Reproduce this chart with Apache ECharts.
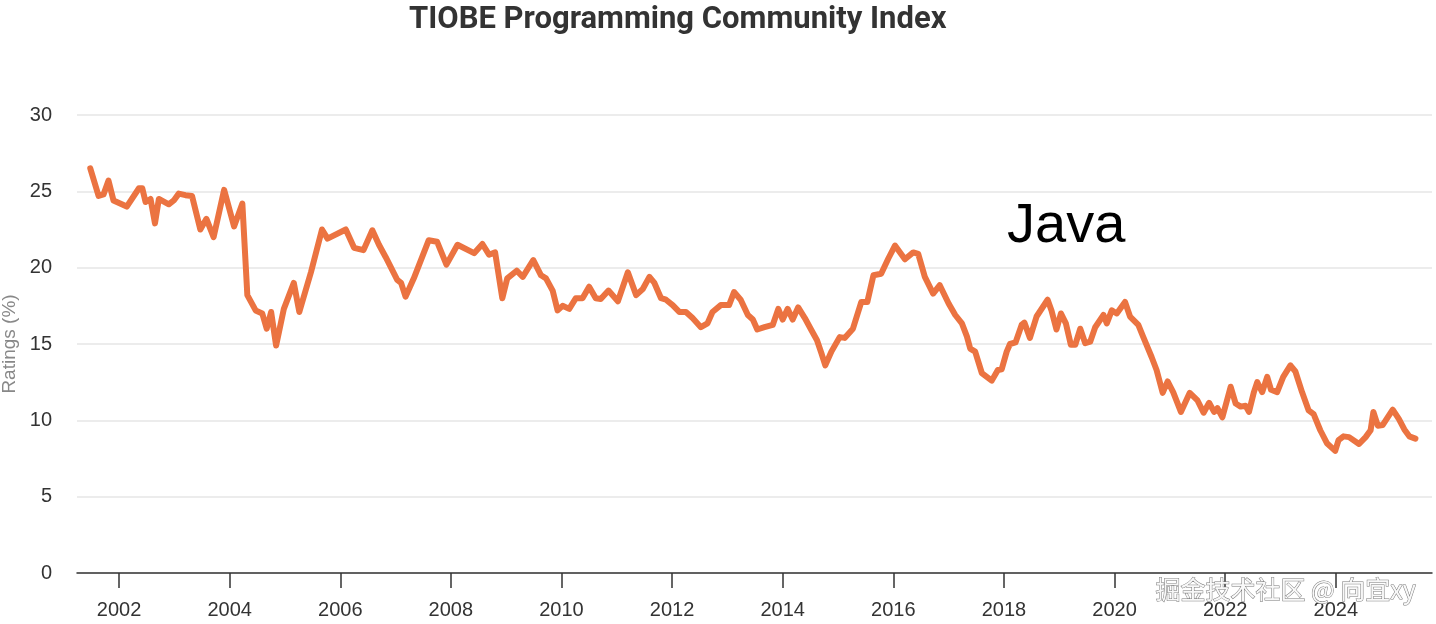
<!DOCTYPE html>
<html>
<head>
<meta charset="utf-8">
<title>TIOBE Programming Community Index</title>
<script src="https://cdn.jsdelivr.net/npm/echarts@6/dist/echarts.min.js"></script>
<style>
  html, body { margin: 0; padding: 0; background: #fff; }
  #main { width: 1436px; height: 624px; }
</style>
</head>
<body>
<div id="main"></div>
<script>
// decimal year of each reading
const years = [
  2001.48, 2001.63, 2001.72, 2001.81, 2001.90, 2002.14, 2002.36, 2002.42, 2002.48, 2002.57,
  2002.65, 2002.72, 2002.90, 2002.99, 2003.08, 2003.20, 2003.32, 2003.47, 2003.58, 2003.71,
  2003.90, 2004.08, 2004.23, 2004.32, 2004.47, 2004.59, 2004.67, 2004.75, 2004.84, 2004.98,
  2005.16, 2005.26, 2005.47, 2005.67, 2005.77, 2006.10, 2006.25, 2006.42, 2006.58, 2006.70,
  2006.82, 2007.03, 2007.10, 2007.18, 2007.33, 2007.60, 2007.75, 2007.92, 2008.12, 2008.42,
  2008.57, 2008.69, 2008.80, 2008.93, 2009.02, 2009.19, 2009.30, 2009.49, 2009.63, 2009.72,
  2009.84, 2009.93, 2010.02, 2010.14, 2010.26, 2010.38, 2010.50, 2010.62, 2010.71, 2010.85,
  2011.02, 2011.20, 2011.35, 2011.47, 2011.59, 2011.68, 2011.80, 2011.89, 2012.01, 2012.13,
  2012.25, 2012.37, 2012.52, 2012.64, 2012.73, 2012.88, 2013.03, 2013.12, 2013.24, 2013.37,
  2013.46, 2013.54, 2013.67, 2013.82, 2013.92, 2014.00, 2014.09, 2014.18, 2014.28, 2014.40,
  2014.52, 2014.62, 2014.70, 2014.77, 2014.88, 2015.03, 2015.12, 2015.27, 2015.42, 2015.53,
  2015.64, 2015.78, 2015.91, 2016.03, 2016.21, 2016.36, 2016.45, 2016.57, 2016.72, 2016.84,
  2017.00, 2017.12, 2017.24, 2017.33, 2017.39, 2017.48, 2017.60, 2017.78, 2017.89, 2017.96,
  2018.05, 2018.11, 2018.21, 2018.32, 2018.37, 2018.47, 2018.59, 2018.79, 2018.86, 2018.95,
  2019.03, 2019.12, 2019.21, 2019.29, 2019.38, 2019.47, 2019.56, 2019.65, 2019.80, 2019.86,
  2019.95, 2020.04, 2020.19, 2020.28, 2020.43, 2020.52, 2020.67, 2020.76, 2020.87, 2020.96,
  2021.06, 2021.20, 2021.36, 2021.50, 2021.61, 2021.71, 2021.80, 2021.86, 2021.95, 2022.10,
  2022.19, 2022.28, 2022.37, 2022.43, 2022.52, 2022.58, 2022.67, 2022.76, 2022.83, 2022.94,
  2023.05, 2023.18, 2023.27, 2023.39, 2023.51, 2023.60, 2023.72, 2023.84, 2023.99, 2024.05,
  2024.14, 2024.24, 2024.42, 2024.54, 2024.63, 2024.68, 2024.76, 2024.85, 2025.03, 2025.14,
  2025.24, 2025.33, 2025.44
];

// Java rating (%)
const java = [
  26.5, 24.7, 24.8, 25.7, 24.4, 24.0, 25.2, 25.2, 24.3, 24.5,
  22.9, 24.5, 24.15, 24.4, 24.85, 24.75, 24.7, 22.5, 23.2, 22.0,
  25.1, 22.7, 24.2, 18.2, 17.2, 17.0, 16.0, 17.1, 14.9, 17.3,
  19.0, 17.1, 19.7, 22.5, 21.9, 22.5, 21.3, 21.15, 22.45, 21.5,
  20.7, 19.2, 19.0, 18.1, 19.3, 21.8, 21.7, 20.2, 21.5, 20.95,
  21.55, 20.85, 21.0, 18.0, 19.3, 19.8, 19.4, 20.5, 19.5, 19.3,
  18.5, 17.2, 17.5, 17.3, 18.0, 18.0, 18.75, 18.0, 17.95, 18.5,
  17.8, 19.7, 18.2, 18.6, 19.4, 19.0, 18.0, 17.9, 17.55, 17.1,
  17.1, 16.7, 16.1, 16.35, 17.1, 17.55, 17.55, 18.4, 17.9, 16.9,
  16.6, 15.95, 16.1, 16.25, 17.3, 16.6, 17.3, 16.6, 17.4, 16.7,
  15.9, 15.25, 14.4, 13.6, 14.5, 15.45, 15.4, 16.0, 17.75, 17.75,
  19.5, 19.6, 20.6, 21.45, 20.55, 21.0, 20.9, 19.4, 18.3, 18.85,
  17.65, 16.9, 16.35, 15.5, 14.7, 14.5, 13.1, 12.6, 13.3, 13.35,
  14.5, 15.0, 15.1, 16.25, 16.4, 15.4, 16.8, 17.9, 17.2, 15.95,
  17.0, 16.35, 14.95, 14.95, 16.0, 15.05, 15.15, 16.1, 16.9, 16.35,
  17.2, 17.0, 17.75, 16.8, 16.25, 15.45, 14.15, 13.3, 11.8, 12.55,
  11.85, 10.55, 11.8, 11.3, 10.5, 11.15, 10.55, 10.8, 10.2, 12.2,
  11.1, 10.9, 10.95, 10.55, 11.85, 12.5, 11.85, 12.85, 12.0, 11.85,
  12.85, 13.6, 13.2, 11.85, 10.65, 10.4, 9.35, 8.5, 8.0, 8.7,
  8.95, 8.9, 8.45, 8.9, 9.35, 10.55, 9.65, 9.7, 10.7, 10.1,
  9.4, 8.95, 8.8
];

// x-axis tick labels
const yearTicks = [2002, 2004, 2006, 2008, 2010, 2012, 2014, 2016, 2018, 2020, 2022, 2024];

const points = years.map((y, i) => [y, java[i]]);

const chart = echarts.init(document.getElementById('main'));
chart.setOption({
  animation: false,
  title: {
    text: 'TIOBE Programming Community Index',
    left: 404,
    top: 0,
    textStyle: {
      fontFamily: 'Roboto',
      fontWeight: 'bold',
      fontSize: 31,
      color: '#333'
    }
  },
  grid: {
    left: 77,
    right: 4,
    top: 115,
    bottom: 51,
    containLabel: false,
    outerBoundsMode: 'none'
  },
  xAxis: {
    type: 'value',
    min: 2001.24,
    max: 2025.74,
    splitLine: { show: false },
    axisLine: { lineStyle: { color: '#333', width: 1.5 } },
    axisTick: {
      show: true,
      customValues: yearTicks,
      length: 15,
      lineStyle: { color: '#333', width: 1.5 }
    },
    axisLabel: {
      customValues: yearTicks,
      margin: 27,
      fontSize: 20,
      color: '#333',
      fontFamily: 'Liberation Sans',
      formatter: v => String(v)
    }
  },
  yAxis: {
    type: 'value',
    min: 0,
    max: 30,
    interval: 5,
    name: 'Ratings (%)',
    nameLocation: 'middle',
    nameGap: 58,
    nameTextStyle: { fontSize: 19, color: '#888', fontFamily: 'Liberation Sans' },
    axisLine: { show: false },
    axisTick: { show: false },
    axisLabel: { margin: 25, fontSize: 20, color: '#333', fontFamily: 'Liberation Sans' },
    splitLine: { lineStyle: { color: '#e6e6e6', width: 1.5 } }
  },
  series: [
    {
      name: 'Java',
      type: 'line',
      data: points,
      showSymbol: false,
      symbol: 'none',
      lineStyle: {
        color: '#eb7341',
        width: 6,
        cap: 'round',
        join: 'round'
      }
    }
  ],
  graphic: [
    {
      type: 'text',
      left: 1007,
      top: 199,
      z: 10,
      style: {
        text: 'Java',
        fontSize: 56,
        fontFamily: 'Liberation Sans',
        fill: '#000'
      }
    },
    {
      type: 'text',
      left: 1155,
      top: 576,
      z: 10,
      style: {
        text: '掘金技术社区 @ 向宜xy',
        fontSize: 25,
        fontFamily: 'Noto Sans CJK SC',
        fill: '#f8f8f8',
        stroke: '#777',
        lineWidth: 1
      }
    }
  ]
});
</script>
</body>
</html>
